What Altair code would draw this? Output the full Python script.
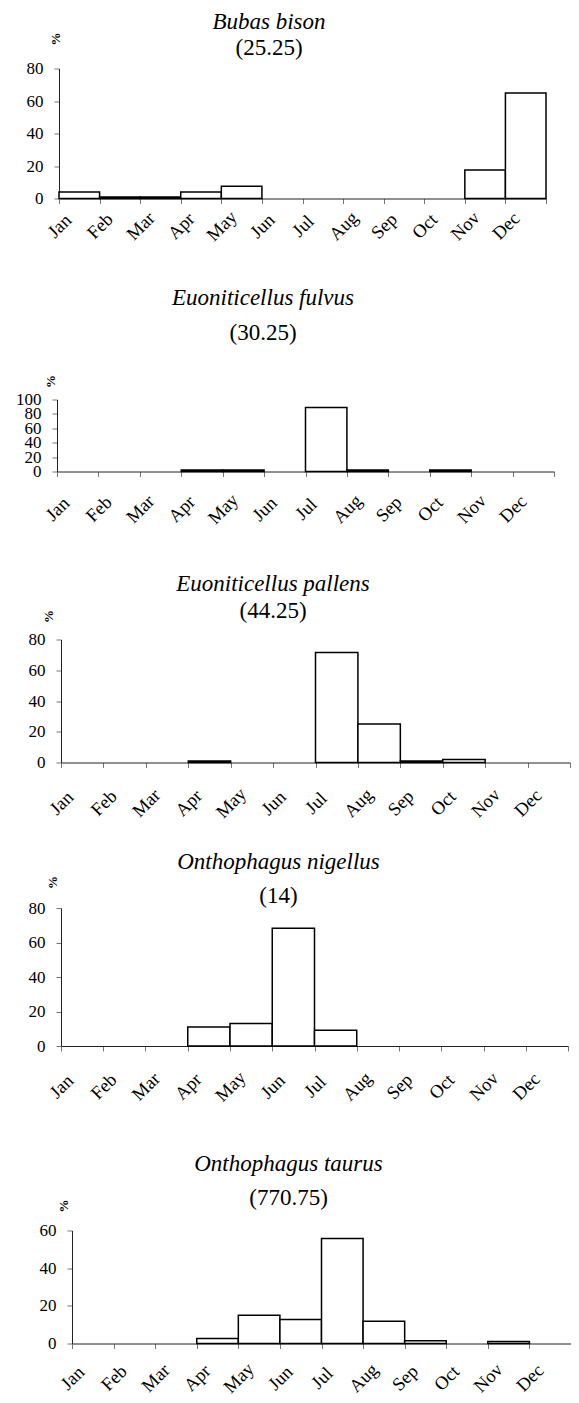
import altair as alt
import pandas as pd

MONTHS = ["Jan", "Feb", "Mar", "Apr", "May", "Jun",
          "Jul", "Aug", "Sep", "Oct", "Nov", "Dec"]

SPECIES = ["Bubas bison", "Euoniticellus fulvus", "Euoniticellus pallens",
           "Onthophagus nigellus", "Onthophagus taurus"]
TOTALS = ["(25.25)", "(30.25)", "(44.25)", "(14)", "(770.75)"]

BUBAS_BISON = [4, 1, 1, 4, 7.5, 0, 0, 0, 0, 0, 17.5, 65]
EU_FULVUS = [0, 0, 0, 2, 2, 0, 89, 2, 0, 2, 0, 0]
EU_PALLENS = [0, 0, 0, 1, 0, 0, 71.5, 25, 1, 2, 0, 0]
ON_NIGELLUS = [0, 0, 0, 11, 13, 68.3, 9.2, 0, 0, 0, 0, 0]
ON_TAURUS = [0, 0, 0, 2.7, 15, 12.7, 55.8, 11.8, 1.4, 0, 1, 0]

SERIES = [BUBAS_BISON, EU_FULVUS, EU_PALLENS, ON_NIGELLUS, ON_TAURUS]
Y_MAX = [80, 100, 80, 80, 60]

# per panel: plot shift from common origin, plot width, height, % title pos,
# title dx, title offset, subtitle padding, x label padding
LAYOUT = [
    dict(sh=2, w=487, h=130, pdx=-4, pdy=-30, tdx=-32.5, toff=-27.5, sp=3, lp=22),
    dict(sh=0, w=497, h=72, pdx=-7, pdy=-18.5, tdx=-42.5, toff=30, sp=12, lp=32),
    dict(sh=4, w=509, h=123, pdx=-13, pdy=-23.5, tdx=-40.5, toff=-13, sp=4, lp=35),
    dict(sh=4, w=507, h=138, pdx=-8.5, pdy=-26, tdx=-34, toff=-32, sp=11, lp=35),
    dict(sh=15, w=499, h=113, pdx=-9, pdy=-25, tdx=-25.5, toff=-11, sp=11, lp=29),
]
SPACING = [42, 45, 28.5, 47.5]
EXTENT = 44

FONT = "Liberation Serif"
LABEL_EXPR = "[" + ",".join("'%s'" % m for m in MONTHS) + "][datum.value] || ''"


def panel(i):
    L = LAYOUT[i]
    df = pd.DataFrame({
        "month": MONTHS,
        "start": list(range(12)),
        "end": list(range(1, 13)),
        "pct": SERIES[i],
        "base": [0] * 12,
    })
    ymax = Y_MAX[i]
    return alt.Chart(df).transform_filter("datum.pct > 0").mark_bar(
        fill="white", stroke="black", strokeWidth=1.5
    ).encode(
        x=alt.X("start:Q",
                scale=alt.Scale(domain=[0, 12], nice=False, zero=False,
                                range=[L["sh"], L["sh"] + L["w"]]),
                axis=alt.Axis(values=list(range(13)), labelExpr=LABEL_EXPR,
                              labelAngle=315, labelAlign="center",
                              labelBaseline="middle", labelPadding=L["lp"],
                              labelFontSize=18.5,
                              labelOverlap=False, labelFlush=False,
                              labelBound=False, tickSize=5, grid=False,
                              title=None)),
        x2="end:Q",
        y=alt.Y("pct:Q",
                scale=alt.Scale(domain=[0, ymax], nice=False),
                axis=alt.Axis(values=list(range(0, ymax + 1, 20)),
                              offset=-L["sh"],
                              tickSize=5, labelPadding=11, grid=False,
                              labelFontSize=17,
                              labelFlush=False, labelOverlap=False,
                              title="%", titleAngle=270, titleX=L["pdx"],
                              titleY=L["pdy"], titleAlign="center",
                              titleBaseline="middle", titleFontSize=13,
                              titleFontWeight="bold", titlePadding=0,
                              minExtent=EXTENT, maxExtent=EXTENT)),
        y2="base:Q",
    ).properties(
        width=L["sh"] + L["w"], height=L["h"],
        title=alt.TitleParams(
            text=SPECIES[i], subtitle=TOTALS[i], font=FONT, fontSize=23,
            fontStyle="italic", fontWeight="normal", color="black",
            subtitleFont=FONT, subtitleFontSize=23, subtitleFontStyle="normal",
            subtitleColor="black", subtitlePadding=L["sp"], anchor="middle",
            frame="group", dx=L["tdx"], offset=L["toff"]),
    )


p = [panel(i) for i in range(5)]

inner = alt.vconcat(p[3], p[4], spacing=SPACING[3])
inner = alt.vconcat(p[2], inner, spacing=SPACING[2])
inner = alt.vconcat(p[1], inner, spacing=SPACING[1])
chart = alt.vconcat(p[0], inner, spacing=SPACING[0]).properties(
    padding={"left": 5, "top": 2.5, "right": -7, "bottom": 0}
).configure_view(stroke=None).configure_axis(
    labelFont=FONT, labelColor="black",
    titleFont=FONT, titleColor="black",
    domainColor="#222222", domainWidth=1, tickColor="#777777", tickWidth=1,
)

chart.save("out.html", embed_options={"renderer": "svg", "actions": False})
